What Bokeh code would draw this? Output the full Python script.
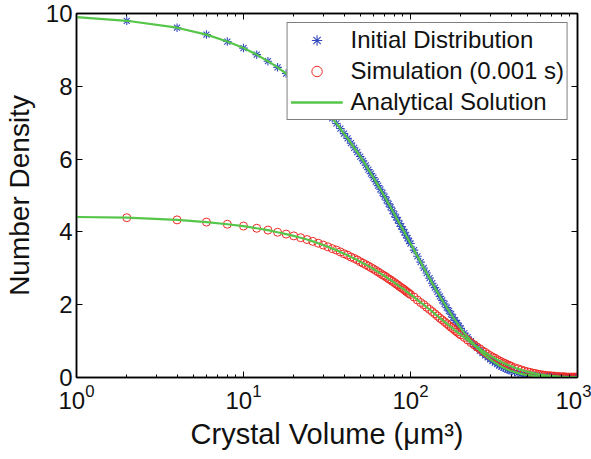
from bokeh.plotting import figure
from bokeh.models import (LogAxis, LinearAxis, FixedTicker, CustomJSTickFormatter,
                          Range1d, Legend, LegendItem)
from bokeh.embed import file_html
from bokeh.resources import INLINE

FONT = "Liberation Sans"

# ---------------- data ----------------
volume = [2, 4, 6, 8, 10, 12, 14, 16, 18, 20, 22, 24, 26, 28, 30, 32, 34, 36, 38, 40,
          42, 44, 46, 48, 50, 52, 54, 56, 58, 60, 62, 64, 66, 68, 70, 72, 74, 76, 78, 80,
          82, 84, 86, 88, 90, 92, 94, 96, 98, 100,
          105, 110, 115, 120, 125, 130, 135, 140, 145, 150, 155, 160, 165, 170, 175, 180,
          185, 190, 195, 200,
          210, 220, 230, 240, 250, 260, 270, 280, 290, 300, 310, 320, 330, 340, 350, 360,
          370, 380, 390, 400,
          420, 440, 460, 480, 500, 520, 540, 560, 580, 600, 620, 640, 660, 680, 700, 720,
          740, 760, 780, 800, 820, 840, 860, 880, 900, 920, 940, 960, 980, 1000]

initial = [9.80, 9.61, 9.42, 9.23, 9.05, 8.87, 8.69, 8.52, 8.35, 8.19, 8.03, 7.87, 7.71, 7.56,
           7.41, 7.26, 7.12, 6.98, 6.84, 6.70, 6.57, 6.44, 6.31, 6.19, 6.07, 5.95, 5.83, 5.71,
           5.60, 5.49, 5.38, 5.27, 5.17, 5.07, 4.97, 4.87, 4.77, 4.68, 4.58, 4.49, 4.40, 4.32,
           4.23, 4.15, 4.07, 3.99, 3.91, 3.83, 3.75, 3.68,
           3.50, 3.33, 3.17, 3.01, 2.87, 2.73, 2.59, 2.47, 2.35, 2.23, 2.12, 2.02, 1.92, 1.83,
           1.74, 1.65, 1.57, 1.50, 1.42, 1.35,
           1.22, 1.11, 1.00, 0.91, 0.82, 0.74, 0.67, 0.61, 0.55, 0.50, 0.45, 0.41, 0.37, 0.33,
           0.30, 0.27, 0.25, 0.22, 0.20, 0.18,
           0.15, 0.12, 0.10, 0.08, 0.07, 0.06, 0.05, 0.04, 0.03, 0.02, 0.02, 0.02, 0.01, 0.01,
           0.01, 0.01, 0.01, 0.00, 0.00, 0.00, 0.00, 0.00, 0.00, 0.00, 0.00, 0.00, 0.00, 0.00,
           0.00, 0.00]

simulation = [4.39, 4.33, 4.27, 4.21, 4.16, 4.10, 4.05, 3.99, 3.94, 3.89, 3.84, 3.79, 3.74, 3.69,
              3.64, 3.59, 3.54, 3.50, 3.45, 3.40, 3.36, 3.31, 3.27, 3.23, 3.18, 3.14, 3.10, 3.06,
              3.02, 2.98, 2.94, 2.90, 2.86, 2.82, 2.79, 2.75, 2.71, 2.68, 2.64, 2.61, 2.57, 2.54,
              2.50, 2.47, 2.44, 2.41, 2.37, 2.34, 2.31, 2.28,
              2.21, 2.13, 2.06, 2.00, 1.93, 1.87, 1.81, 1.75, 1.69, 1.63, 1.58, 1.53, 1.48, 1.43,
              1.38, 1.34, 1.29, 1.25, 1.21, 1.17,
              1.10, 1.03, 0.96, 0.90, 0.84, 0.79, 0.73, 0.69, 0.64, 0.60, 0.56, 0.53, 0.49, 0.46,
              0.43, 0.40, 0.38, 0.35, 0.33, 0.31,
              0.27, 0.24, 0.21, 0.18, 0.16, 0.14, 0.12, 0.11, 0.09, 0.08, 0.07, 0.06, 0.05, 0.05,
              0.04, 0.04, 0.03, 0.03, 0.02, 0.02, 0.02, 0.02, 0.01, 0.01, 0.01, 0.01, 0.01, 0.01,
              0.01, 0.01]

# analytical curves start at V = 1
line_start_volume = [1]
initial_at_start = [9.90]
simulation_at_start = [4.41]

x_major_ticks = [1, 10, 100, 1000]
x_minor_ticks = [2, 3, 4, 5, 6, 7, 8, 9, 20, 30, 40, 50, 60, 70, 80, 90,
                 200, 300, 400, 500, 600, 700, 800, 900]
y_ticks = [0, 2, 4, 6, 8, 10]

# ---------------- figure ----------------
p = figure(width=591, height=459, x_axis_type="log",
           x_range=Range1d(1, 1000), y_range=Range1d(0, 10),
           output_backend="svg", toolbar_location=None,
           min_border_left=76, min_border_right=14, min_border_top=13, min_border_bottom=82)
p.background_fill_color = "white"
p.border_fill_color = "white"
p.grid.visible = False
p.outline_line_color = "black"
p.outline_line_width = 1.5

BLUE = "#3149bd"
RED = "#ec2a24"
GREEN = "#55c64a"

r_init = p.scatter(volume, initial, marker="asterisk", size=8.5, line_color=BLUE, line_width=1.1)
r_sim = p.scatter(volume, simulation, marker="circle", size=8, line_color=RED,
                  fill_color=None, line_width=1)
line_x = line_start_volume + volume
l1 = p.line(line_x, initial_at_start + initial, line_color=GREEN, line_width=2.2)
l2 = p.line(line_x, simulation_at_start + simulation, line_color=GREEN, line_width=2.2)

# ---------------- axes ----------------
def style_axis(ax):
    ax.axis_line_color = "black"
    ax.axis_line_width = 1.5
    ax.major_tick_line_color = "black"
    ax.minor_tick_line_color = "black"
    ax.major_tick_in = 6
    ax.major_tick_out = 0
    ax.minor_tick_in = 3
    ax.minor_tick_out = 0
    ax.major_label_text_font = FONT
    ax.major_label_text_font_size = "24px"
    ax.major_label_text_color = "#111111"
    ax.axis_label_text_font = FONT
    ax.axis_label_text_font_size = "28px"
    ax.axis_label_text_font_style = "normal"
    ax.axis_label_text_color = "#111111"

xa = p.xaxis[0]
xa.ticker = FixedTicker(ticks=x_major_ticks, minor_ticks=x_minor_ticks)
style_axis(xa)
xa.axis_label = "Crystal Volume (μm³)"
xa.axis_label_text_font_size = "29px"
xa.major_label_standoff = 6
xa.axis_label_standoff = 6

ya = p.yaxis[0]
ya.ticker = FixedTicker(ticks=y_ticks, minor_ticks=[])
style_axis(ya)
ya.axis_label = "Number Density"
ya.major_label_standoff = 4
ya.axis_label_standoff = 8

blank = CustomJSTickFormatter(code="return ''")
top = LogAxis(ticker=FixedTicker(ticks=x_major_ticks, minor_ticks=x_minor_ticks), formatter=blank)
style_axis(top)
top.major_label_standoff = 0
p.add_layout(top, "above")
right = LinearAxis(ticker=FixedTicker(ticks=y_ticks, minor_ticks=[]), formatter=blank)
style_axis(right)
right.major_label_standoff = 0
p.add_layout(right, "right")

# ---------------- legend ----------------
legend = Legend(items=[LegendItem(label="Initial Distribution", renderers=[r_init]),
                       LegendItem(label="Simulation (0.001 s)", renderers=[r_sim]),
                       LegendItem(label="Analytical Solution", renderers=[l1, l2])],
                location="top_right")
legend.border_line_color = "black"
legend.border_line_width = 1.5
legend.background_fill_color = "white"
legend.background_fill_alpha = 1
legend.label_text_font = FONT
legend.label_text_font_size = "24px"
legend.label_text_color = "#111111"
legend.padding = 3
legend.spacing = 3
legend.margin = 9
legend.glyph_width = 52
legend.glyph_height = 26
legend.label_height = 26
legend.label_standoff = 8
p.add_layout(legend)

open("out.html", "w").write(file_html(p, INLINE))
